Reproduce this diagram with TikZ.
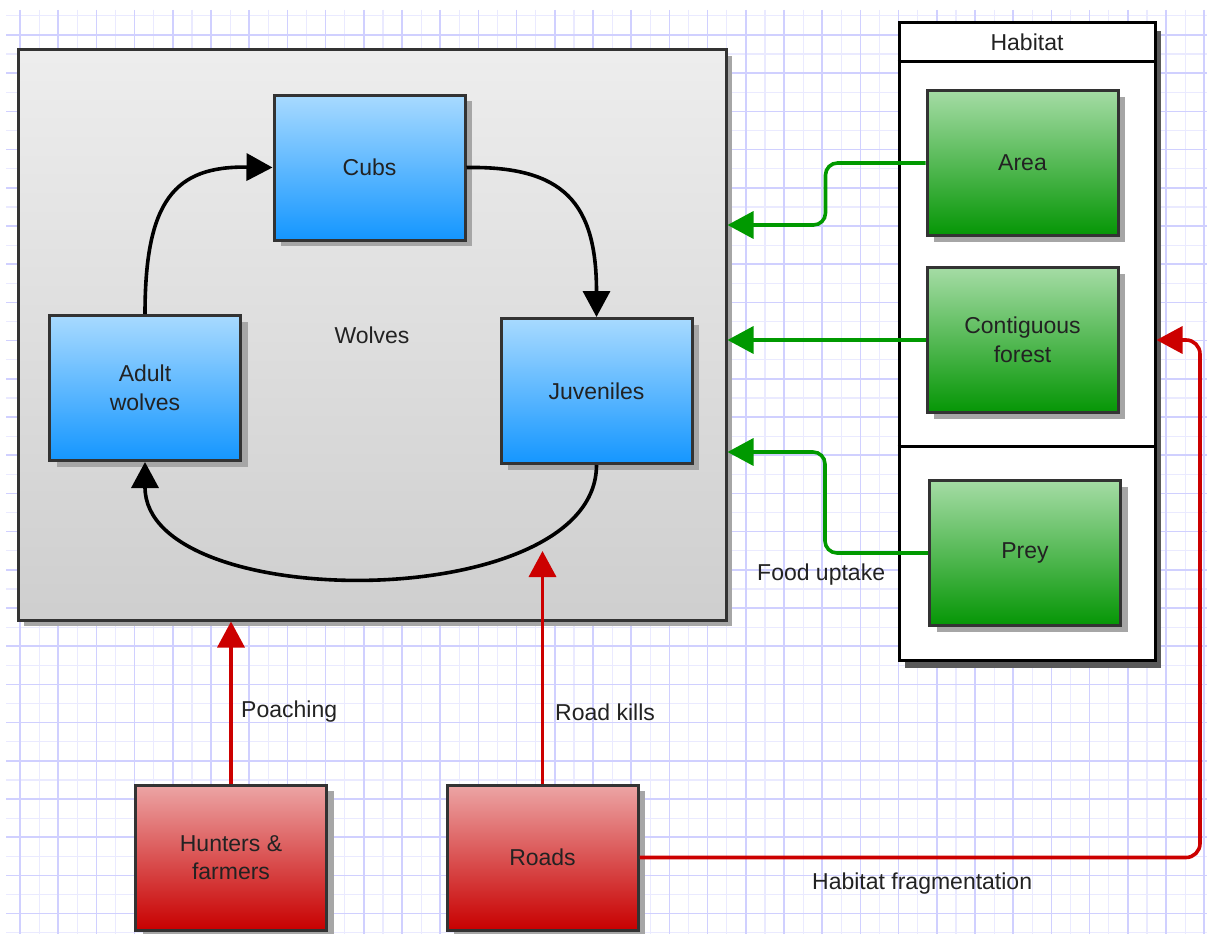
\documentclass[tikz,border=0pt]{standalone}
\usepackage{fontspec}
\setmainfont{Liberation Sans}
\usepackage{tikz}
\usetikzlibrary{arrows.meta,shadows,calc}
\usetikzlibrary{positioning}
\definecolor{gridmaj}{RGB}{208,208,255}
\definecolor{gridmin}{RGB}{234,234,255}
\definecolor{boxline}{RGB}{51,51,51}
\definecolor{bluetop}{RGB}{168,218,255}
\definecolor{bluebot}{RGB}{20,150,255}
\definecolor{greentop}{RGB}{165,220,165}
\definecolor{greenbot}{RGB}{5,150,5}
\definecolor{redtop}{RGB}{236,165,165}
\definecolor{redbot}{RGB}{200,0,0}
\definecolor{arrgreen}{RGB}{0,153,0}
\definecolor{arrred}{RGB}{204,0,0}
\definecolor{txt}{RGB}{34,34,34}
\tikzset{
    stage/.style={
           rectangle,
           draw=boxline, line width=3pt,
           minimum width=191pt,
           minimum height=145pt,
           align=center,
           text=txt,
           drop shadow={shadow xshift=7pt, shadow yshift=-6pt, fill=black!35, opacity=1},
           },
    wolf/.style={stage, top color=bluetop, bottom color=bluebot},
    habi/.style={stage, top color=greentop, bottom color=greenbot},
    threat/.style={stage, top color=redtop, bottom color=redbot},
    bigbox/.style={
           rectangle,
           draw=boxline, line width=3pt,
           minimum width=708pt,
           minimum height=570pt,
           top color=black!7, bottom color=black!19,
           text=txt,
           drop shadow={shadow xshift=6pt, shadow yshift=-6pt, fill=black!35, opacity=1},
           },
    pil/.style={
           ->,
           line width=3.6pt,
           },
    lbl/.style={
           text=txt,
           anchor=west,
           inner sep=0pt,
           }
}

\begin{document}
\begin{tikzpicture}[x=1pt,y=-1pt,>={Triangle[length=26pt,width=27pt]},font=\fontsize{23}{28.5}\selectfont]
\useasboundingbox (0,0) rectangle (1207,934);
\fill[white] (0,0) rectangle (1207,934);
\foreach \x in {39.1,77.3,...,1207} \draw[gridmin, line width=1.2pt] (\x,10) -- (\x,934);
\foreach \y in {15.9,54.1,...,934} \draw[gridmin, line width=1.2pt] (6,\y) -- (1207,\y);
\foreach \x in {20,58.2,...,1207} \draw[gridmaj, line width=1.5pt] (\x,10) -- (\x,934);
\foreach \y in {35,73.2,...,934} \draw[gridmaj, line width=1.5pt] (6,\y) -- (1207,\y);

\node[bigbox] (wolves) at (372,335) {Wolves};
\node[draw=black, line width=3pt, fill=white, minimum width=256pt, minimum height=637pt,
      drop shadow={shadow xshift=6pt, shadow yshift=-8pt, fill=black!65, opacity=1}] (habitat) at (1027,341.5) {};
\draw[line width=3pt] (habitat.west |- 0,62) -- (habitat.east |- 0,62);
\draw[line width=3pt] (habitat.west |- 0,446) -- (habitat.east |- 0,446);
\node[text=txt] (habtitle) at (1027,42) {Habitat};

\node[wolf] (cubs) at (369.5,167.5) {Cubs};
\node[wolf] (adult) at (145,388) {Adult\\wolves};
\node[wolf] (juv) at (596.5,391) {Juveniles};
\node[habi] (area) at (1022.5,163) {Area};
\node[habi] (forest) at (1022.5,340) {Contiguous\\forest};
\node[habi] (prey) at (1025,553) {Prey};
\node[threat] (hunters) at (231,857.5) {Hunters \&\\farmers};
\node[threat] (roads) at (542.5,857.5) {Roads};
\coordinate (kill) at (542.5,551);

\draw[pil] (adult.north) .. controls (145,200) and (175,166) .. (cubs.west);
\draw[pil] (cubs.east) .. controls (564,166) and (596.5,203) .. (juv.north);
\draw[pil] (juv.south) .. controls (596.5,615) and (145,615) .. (adult.south);

\draw[pil, arrgreen, rounded corners=12pt] (area.west) -- ++(-100,0) |- (wolves.east |- 0,225);
\draw[pil, arrgreen] (forest.west) -- (wolves.east |- forest.west);
\draw[pil, arrgreen, rounded corners=12pt] (prey.west) -- ++(-103,0) |- (wolves.east |- 0,452);

\draw[pil, arrred] (hunters.north) -- (hunters.north |- wolves.south);
\draw[pil, arrred] (roads.north) -- (kill);
\draw[pil, arrred, rounded corners=14pt] (roads.east) -- (1200,857.5) |- (habitat.east |- 0,340);

\node[lbl] (poach) at (241,712) {Poaching};
\node[lbl] (rkill) at (555,712) {Road kills};
\node[lbl] (food) at (757,575) {Food uptake};
\node[lbl] (frag) at (812,884) {Habitat fragmentation};
\end{tikzpicture}
\end{document}
